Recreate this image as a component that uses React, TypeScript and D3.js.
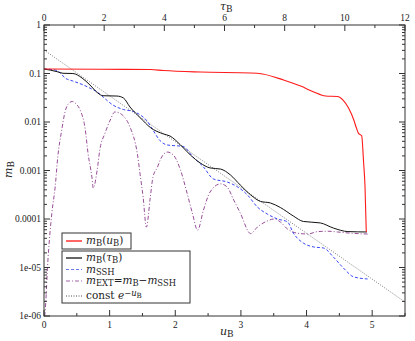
import React from 'react'
import * as d3 from 'd3'

const W = 415
const H = 341
const X0 = 44
const X1 = 405
const Y0 = 25
const Y1 = 316

// axis ticks
const uTicks = [0, 1, 2, 3, 4, 5]
const uMinor = [0.5, 1.5, 2.5, 3.5, 4.5, 5.5]
const tauTicks = [0, 2, 4, 6, 8, 10, 12]
const tauMinor = [1, 3, 5, 7, 9, 11]
const yDecades = [1e-6, 1e-5, 1e-4, 1e-3, 1e-2, 1e-1, 1]
const yTickLabels = ['1e-06', '1e-05', '0.0001', '0.001', '0.01', '0.1', '1']

// curves, [u_B, m_B]
const mBu: [number, number][] = [
  [0, 0.124], [0.85, 0.122], [1.62, 0.121], [1.82, 0.115], [2.38, 0.107],
  [3.15, 0.1027], [3.33, 0.098], [3.65, 0.0735], [3.91, 0.055], [4.11, 0.0417],
  [4.29, 0.0343], [4.47, 0.0336], [4.56, 0.0279], [4.64, 0.0194], [4.72, 0.011],
  [4.76, 0.0075], [4.79, 0.0059], [4.84, 0.0052], [4.87, 0.00141], [4.89, 0.0005],
  [4.91, 5.4e-5],
]

const mBtau: [number, number][] = [
  [0, 0.124], [0.2, 0.109], [0.29, 0.101], [0.44, 0.1], [0.58, 0.0807],
  [0.7, 0.058], [0.82, 0.0396], [0.9, 0.0348], [1.11, 0.0343], [1.21, 0.0313],
  [1.31, 0.0204], [1.47, 0.0121], [1.62, 0.0077], [1.82, 0.00566], [1.92, 0.00514],
  [2.08, 0.00336], [2.23, 0.00209], [2.38, 0.00143], [2.53, 0.00113], [2.69, 0.00107],
  [2.84, 0.00081], [2.99, 0.000502], [3.15, 0.000313], [3.3, 0.00023], [3.45, 0.000214],
  [3.6, 0.000173], [3.8, 0.000115], [3.95, 8.9e-5], [4.21, 8.3e-5], [4.41, 6.5e-5],
  [4.63, 5.5e-5], [4.92, 5.4e-5],
]

const mSSH: [number, number][] = [
  [0, 0.124], [0.17, 0.118], [0.24, 0.105], [0.32, 0.081], [0.44, 0.07],
  [0.6, 0.058], [0.7, 0.05], [0.81, 0.0416], [0.9, 0.0328], [1.05, 0.0224],
  [1.21, 0.0181], [1.36, 0.0165], [1.47, 0.0139], [1.57, 0.0105], [1.66, 0.0068],
  [1.77, 0.0041], [1.88, 0.00336], [2.12, 0.00313], [2.27, 0.0019], [2.43, 0.00118],
  [2.58, 0.00067], [2.79, 0.00058], [2.95, 0.000457], [3.1, 0.000313], [3.25, 0.000177],
  [3.4, 0.000127], [3.56, 0.0001], [3.71, 8.7e-5], [3.8, 5.1e-5], [3.95, 3.2e-5],
  [4.11, 2.65e-5], [4.26, 2.52e-5], [4.41, 1.64e-5], [4.56, 9.8e-6], [4.72, 6.4e-6],
  [4.93, 5.8e-6],
]

const mEXT: [number, number][] = [
  [0.01, 1e-6], [0.015, 1.15e-6], [0.06, 1.43e-5], [0.12, 1.33e-4], [0.17, 4.57e-4],
  [0.21, 1.9e-3], [0.27, 6.8e-3], [0.32, 0.0161], [0.37, 0.0235], [0.43, 0.0265],
  [0.49, 0.0235], [0.55, 0.0177], [0.63, 0.0068], [0.67, 0.0023], [0.73, 7.3e-4],
  [0.75, 4.35e-4], [0.81, 1.02e-3], [0.85, 2.65e-3], [0.93, 5.9e-3], [1.01, 0.011],
  [1.08, 0.0161], [1.15, 0.0153], [1.21, 0.0133], [1.31, 7.9e-3], [1.42, 2.3e-3],
  [1.47, 7.3e-4], [1.51, 2.84e-4], [1.56, 6.8e-5], [1.62, 2.84e-4], [1.66, 7.3e-4],
  [1.73, 1.18e-3], [1.77, 1.64e-3], [1.88, 2.4e-3], [1.97, 2.09e-3], [2.08, 1.02e-3],
  [2.18, 3.4e-4], [2.26, 1.33e-4], [2.34, 5.9e-5], [2.43, 1.53e-4], [2.53, 3.6e-4],
  [2.69, 5.3e-4], [2.79, 4.57e-4], [2.89, 2.47e-4], [2.99, 1.33e-4], [3.15, 5.0e-5],
  [3.25, 6.8e-5], [3.4, 9.1e-5], [3.51, 1.0e-4], [3.6, 8.7e-5], [3.71, 6.2e-5],
  [3.86, 5.1e-5], [4.02, 4.9e-5], [4.17, 5.5e-5], [4.32, 5.6e-5], [4.47, 5.4e-5],
  [4.67, 5.1e-5], [4.93, 4.9e-5],
]

const constExp: [number, number][] = [[0, 0.305], [5.5, 1.94e-6]]

type Part = { t: string; i?: boolean; s?: 'sub' | 'sup' | 'supsub' }

const serif = "'DejaVu Serif', 'Liberation Serif', serif"
const tickFont = "'Liberation Serif', 'DejaVu Serif', serif"

function Rich({ parts, x, y, size, anchor = 'start', transform }: any) {
  let shift = 0
  return (
    <text x={x} y={y} fontSize={size} textAnchor={anchor} transform={transform}
      fontFamily={serif} fill="#222">
      {parts.map((p: Part, k: number) => {
        const target = p.s === 'sub' ? size * 0.22 : p.s === 'sup' ? -size * 0.28 : p.s === 'supsub' ? -size * 0.1 : 0
        const dy = target - shift
        shift = target
        const fs = p.s === 'supsub' ? size * 0.68 : p.s ? size * 0.8 : size
        return (
          <tspan key={k} dy={dy} fontStyle={p.i ? 'italic' : 'normal'} fontSize={fs}>{p.t}</tspan>
        )
      })}
    </text>
  )
}

export default function App() {
  const x = d3.scaleLinear().domain([0, 5.5]).range([X0, X1])
  const xTop = d3.scaleLinear().domain([0, 12]).range([X0, X1])
  const y = d3.scaleLog().domain([1e-6, 1]).range([Y1, Y0])

  const line = d3.line<[number, number]>()
    .x(d => x(d[0]))
    .y(d => y(d[1]))
    .curve(d3.curveMonotoneX)
  const straight = d3.line<[number, number]>().x(d => x(d[0])).y(d => y(d[1]))

  const yMinor = y.ticks().filter(v => !yDecades.some(d => Math.abs(v / d - 1) < 1e-6))

  const tickColor = '#333'

  const legend2 = [
    { yy: 258, stroke: '#555', dash: undefined, w: 1.8, parts: [{ t: 'm', i: true }, { t: 'B', s: 'sub' }, { t: '(' }, { t: 'τ', i: true }, { t: 'B', s: 'sub' }, { t: ')' }] },
    { yy: 269.5, stroke: '#4455ee', dash: '3,2', w: 0.8, parts: [{ t: 'm', i: true }, { t: 'SSH', s: 'sub' }] },
    { yy: 281, stroke: '#8B3A8B', dash: '4,2,1,2', w: 0.8, parts: [{ t: 'm', i: true }, { t: 'EXT', s: 'sub' }, { t: '=' }, { t: 'm', i: true }, { t: 'B', s: 'sub' }, { t: '−' }, { t: 'm', i: true }, { t: 'SSH', s: 'sub' }] },
    { yy: 296, stroke: '#222', dash: '1,1.5', w: 0.8, parts: [{ t: 'const ' }, { t: 'e', i: true }, { t: '−', s: 'sup' }, { t: 'u', i: true, s: 'sup' }, { t: 'B', s: 'supsub' }] },
  ]

  return (
    <svg width={W} height={H} style={{ position: 'absolute', left: 0, top: 0, background: '#fff' }}>
      <defs>
        <clipPath id="plot-clip">
          <rect x={X0} y={Y0} width={X1 - X0} height={Y1 - Y0} />
        </clipPath>
      </defs>

      {/* curves */}
      <g clipPath="url(#plot-clip)" fill="none">
        <path d={straight(constExp) || ''} stroke="#444" strokeWidth={0.7} strokeDasharray="1,1.5" />
        <path d={line(mEXT) || ''} stroke="#8B3A8B" strokeWidth={0.9} strokeDasharray="4,2,1,2" />
        <path d={line(mSSH) || ''} stroke="#2233ee" strokeWidth={0.9} strokeDasharray="3,2" />
        <path d={line(mBtau) || ''} stroke="#111" strokeWidth={1} />
        <path d={line(mBu) || ''} stroke="#ff1a1a" strokeWidth={1.1} />
      </g>

      {/* frame */}
      <rect x={X0} y={Y0} width={X1 - X0} height={Y1 - Y0} fill="none" stroke="#333" strokeWidth={1} />

      {/* bottom + top ticks */}
      {uTicks.map(t => (
        <g key={'u' + t}>
          <line x1={x(t)} x2={x(t)} y1={Y1} y2={Y1 - 6} stroke={tickColor} />
          <text x={x(t)} y={Y1 + 12} fontSize={9.5} textAnchor="middle" fontFamily={tickFont} fill="#222">{t}</text>
        </g>
      ))}
      {uMinor.map(t => (
        <line key={'um' + t} x1={x(t)} x2={x(t)} y1={Y1} y2={Y1 - 3} stroke={tickColor} />
      ))}
      {tauTicks.map(t => (
        <g key={'t' + t}>
          <line x1={xTop(t)} x2={xTop(t)} y1={Y0} y2={Y0 + 6} stroke={tickColor} />
          <text x={xTop(t)} y={Y0 - 4} fontSize={9.5} textAnchor="middle" fontFamily={tickFont} fill="#222">{t}</text>
        </g>
      ))}
      {tauMinor.map(t => (
        <line key={'tm' + t} x1={xTop(t)} x2={xTop(t)} y1={Y0} y2={Y0 + 3} stroke={tickColor} />
      ))}

      {/* left + right ticks */}
      {yDecades.map((v, k) => (
        <g key={'y' + k}>
          <line x1={X0} x2={X0 + 6} y1={y(v)} y2={y(v)} stroke={tickColor} />
          <line x1={X1} x2={X1 - 6} y1={y(v)} y2={y(v)} stroke={tickColor} />
          <text x={X0 - 3} y={y(v) + 3} fontSize={9.5} textAnchor="end" fontFamily={tickFont} fill="#222">{yTickLabels[k]}</text>
        </g>
      ))}
      {yMinor.map((v, k) => (
        <g key={'ym' + k}>
          <line x1={X0} x2={X0 + 3} y1={y(v)} y2={y(v)} stroke={tickColor} />
          <line x1={X1} x2={X1 - 3} y1={y(v)} y2={y(v)} stroke={tickColor} />
        </g>
      ))}

      {/* axis titles */}
      <Rich parts={[{ t: 'τ', i: true }, { t: 'B', s: 'sub' }]} x={220} y={10} size={11} />
      <Rich parts={[{ t: 'u', i: true }, { t: 'B', s: 'sub' }]} x={220} y={335} size={11} />
      <Rich parts={[{ t: 'm', i: true }, { t: 'B', s: 'sub' }]} x={0} y={0} size={11} transform={`translate(12,178) rotate(-90)`} />

      {/* legend box 1 */}
      <rect x={62} y={233} width={69} height={16} fill="#fff" stroke="#333" strokeWidth={1} />
      <line x1={66} x2={82} y1={241} y2={241} stroke="#ff6666" strokeWidth={2} />
      <Rich parts={[{ t: 'm', i: true }, { t: 'B', s: 'sub' }, { t: '(' }, { t: 'u', i: true }, { t: 'B', s: 'sub' }, { t: ')' }]} x={86} y={244} size={10.5} />

      {/* legend box 2 */}
      <rect x={62} y={251} width={128} height={52} fill="#fff" stroke="#333" strokeWidth={1} />
      {legend2.map((e, k) => (
        <g key={'l' + k}>
          <line x1={66} x2={82} y1={e.yy} y2={e.yy} stroke={e.stroke} strokeWidth={e.w} strokeDasharray={e.dash} />
          <Rich parts={e.parts} x={86} y={e.yy + 3} size={10.5} />
        </g>
      ))}
    </svg>
  )
}
